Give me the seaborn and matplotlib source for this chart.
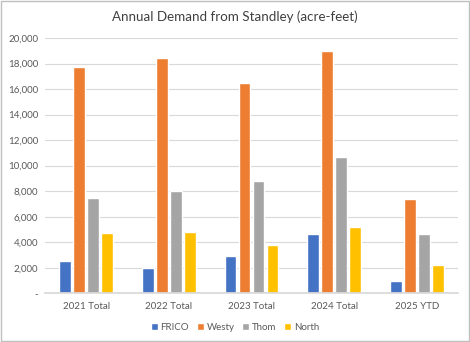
import matplotlib
matplotlib.use("Agg")
import matplotlib.pyplot as plt
import seaborn as sns
import pandas as pd
from matplotlib.ticker import FuncFormatter

categories = ["2021 Total", "2022 Total", "2023 Total", "2024 Total", "2025 YTD"]
series = ["FRICO", "Westy", "Thom", "North"]
frico = [2500, 2000, 2900, 4650, 1000]
westy = [17700, 18400, 16500, 19000, 7400]
thom = [7450, 8000, 8800, 10700, 4650]
north = [4750, 4800, 3800, 5200, 2200]
colors = ["#4472C4", "#ED7D31", "#A5A5A5", "#FFC000"]

rows = []
for name, vals in zip(series, [frico, westy, thom, north]):
    for c, v in zip(categories, vals):
        rows.append({"cat": c, "series": name, "value": v})
df = pd.DataFrame(rows)

sns.set_theme(style="white")
plt.rcParams["font.family"] = ["Lato", "DejaVu Sans"]
txt = "#595959"

fig = plt.figure(figsize=(4.7, 3.42), dpi=100)
ax = fig.add_axes([45/470, 1-293.3/342, 413/470, 255.3/342])
sns.barplot(data=df, x="cat", y="value", hue="series", palette=colors,
            width=0.68, gap=0.16, ax=ax, saturation=1, legend=True)

ax.set_ylim(0, 20000)
ax.set_yticks(range(0, 20001, 2000))
ax.yaxis.set_major_formatter(FuncFormatter(lambda v, p: "-" if v == 0 else f"{int(v):,}"))
ax.grid(axis="y", color="#D9D9D9", linewidth=0.8)
ax.set_axisbelow(True)
for s in ["top", "right", "left"]:
    ax.spines[s].set_visible(False)
ax.spines["bottom"].set_color("#D9D9D9")
ax.tick_params(axis="both", length=0, labelsize=7, colors=txt)
ax.tick_params(axis="x", pad=6)
ax.tick_params(axis="y", pad=5)
ax.set_xlabel("")
ax.set_ylabel("")
ax.set_xlim(-0.5, 4.5)

fig.text(0.5, 1-17/342, "Annual Demand from Standley (acre-feet)", ha="center",
         va="center", fontsize=9.6, color="#404040")

handles, labels = ax.get_legend_handles_labels()
ax.legend_.remove()
fig.legend(handles, labels, loc="center", bbox_to_anchor=(0.5, 1-327/342), ncol=4,
           frameon=False, fontsize=7, handlelength=0.7, handleheight=0.7,
           handletextpad=0.3, columnspacing=0.8, labelcolor=txt)

fig.patches.append(plt.Rectangle((0.002, 0.003), 0.995, 0.994, transform=fig.transFigure,
                                 fill=False, edgecolor="#BFBFBF", linewidth=1.0))
fig.savefig("out.png", dpi=100)
